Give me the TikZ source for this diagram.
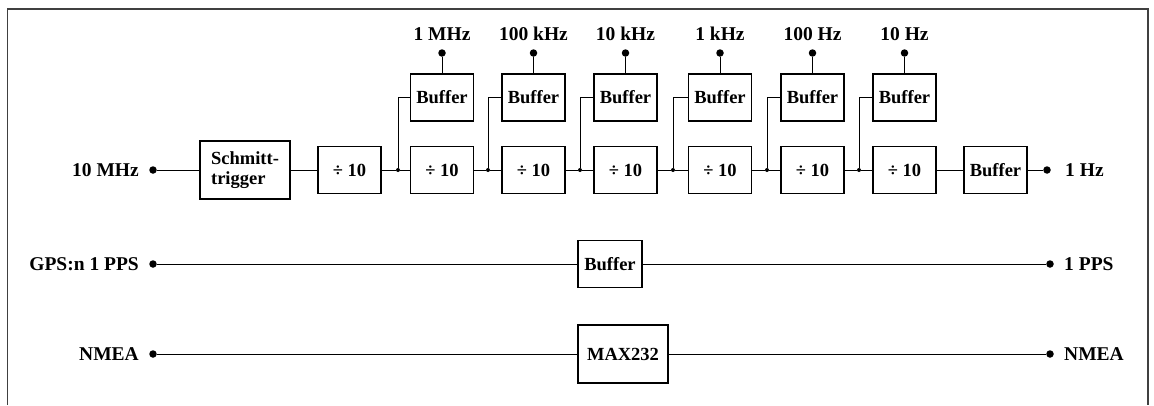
\documentclass[tikz,border=0pt]{standalone}
\usepackage{fontspec}
\setmainfont{Liberation Serif}
\begin{document}
\begin{tikzpicture}[x=1pt,y=-1pt,
  txt/.style={font=\fontsize{19.5}{20.5}\selectfont\bfseries},
  blk/.style={draw,line width=1.1pt,inner sep=0pt,font=\fontsize{18.5}{20.5}\selectfont\bfseries},
  divbox/.style={blk,minimum width=63,minimum height=47},
  wire/.style={line width=0.9pt},
  term/.style={circle,fill,inner sep=0pt,minimum size=7.5pt},
  jn/.style={circle,fill,inner sep=0pt,minimum size=4pt},
  lbl/.style={txt,inner sep=0pt}]
\useasboundingbox (0,0) rectangle (1154,405);
% open frame
\draw[line width=1.3pt,black!75] (7.5,405) -- (7.5,9) -- (1148,9) -- (1148,405);

% ---- frequency divider chain ----
\node[term] (in) at (153,170) {};
\node[lbl,anchor=base east] (inL) at (139,176) {10 MHz};
\node[blk,minimum width=90,minimum height=58,align=left] (st) at (245,170) {Schmitt-\\trigger};
\node[divbox] (d0) at (349.5,170) {÷ 10};
\draw[wire] (in) -- (st);
\draw[wire] (st) -- (d0);

\foreach \i/\p/\c/\j/\f in {1/0/442/398/1 MHz, 2/1/533.5/488/100 kHz, 3/2/625.5/580/10 kHz,
                            4/3/720/673/1 kHz, 5/4/812.5/767/100 Hz, 6/5/904.5/859/10 Hz}{
  \node[divbox] (d\i) at (\c,170) {÷ 10};
  \node[divbox] (b\i) at (\c,97.5) {Buffer};
  \node[jn] (j\i) at (\j,170) {};
  \node[term] (t\i) at (\c,53) {};
  \node[lbl,anchor=base] (f\i) at (\c,40) {\f};
  \draw[wire] (d\p) -- (j\i) -- (d\i);
  \draw[wire] (j\i) |- (b\i.west);
  \draw[wire] (b\i) -- (t\i);
}
\node[divbox] (fb) at (995.5,170) {Buffer};
\node[term] (out) at (1047,170) {};
\node[lbl,anchor=base west] (outL) at (1065,176) {1 Hz};
\draw[wire] (d6) -- (fb);
\draw[wire] (fb) -- (out);

% ---- 1 PPS path ----
\node[term] (pi) at (153,264) {};
\node[lbl,anchor=base east] (piL) at (139,270) {GPS:n 1 PPS};
\node[blk,minimum width=64,minimum height=47] (pb) at (610,264) {Buffer};
\node[term] (po) at (1050,264) {};
\node[lbl,anchor=base west] (poL) at (1064,270) {1 PPS};
\draw[wire] (pi) -- (pb);
\draw[wire] (pb) -- (po);

% ---- NMEA path ----
\node[term] (ni) at (153,354) {};
\node[lbl,anchor=base east] (niL) at (139,360) {NMEA};
\node[blk,minimum width=90,minimum height=58] (mx) at (623,354) {MAX232};
\node[term] (no) at (1050,354) {};
\node[lbl,anchor=base west] (noL) at (1064,360) {NMEA};
\draw[wire] (ni) -- (mx);
\draw[wire] (mx) -- (no);
\end{tikzpicture}
\end{document}
